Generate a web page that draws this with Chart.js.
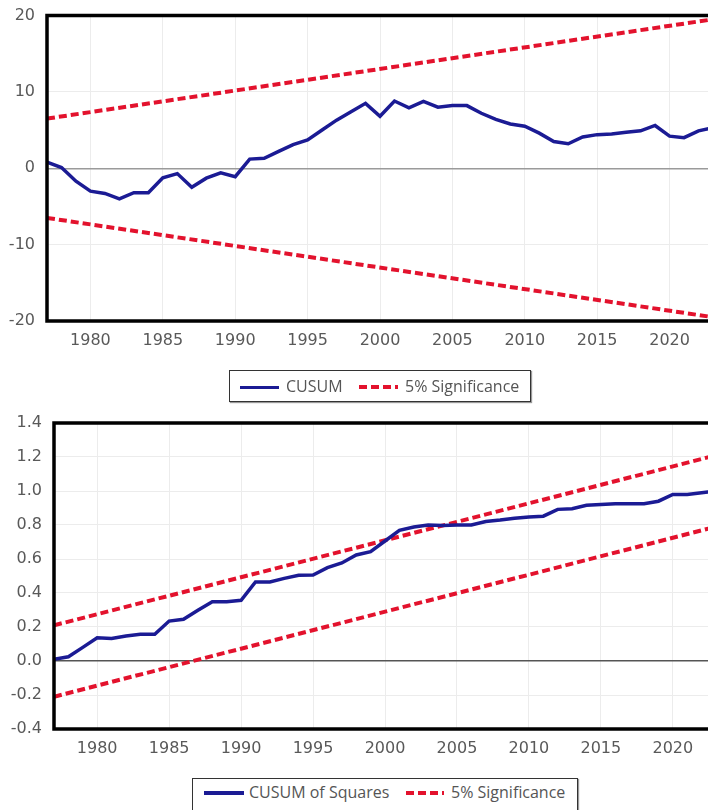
<!DOCTYPE html>
<html>
<head>
<meta charset="utf-8">
<title>CUSUM and CUSUM of Squares</title>
<script src="https://cdn.jsdelivr.net/npm/chart.js@4.4.1/dist/chart.umd.min.js"></script>
<style>
    body { margin: 0; width: 708px; height: 810px; overflow: hidden; background: #fff; position: relative; font-family: 'Open Sans', sans-serif; }
    .box { position: absolute; left: 0; width: 760px; }
    .legend { position: absolute; border: 1px solid #333; box-shadow: 1px 1px 1px #999; background: #fff; box-sizing: border-box; }
    .legend span { position: absolute; }
    .legend .txt { top: 0; font-size: 16px; color: #555; white-space: nowrap; }
    .solid { height: 3.5px; background: #1b1b94; }
    .dash { height: 4px; background: repeating-linear-gradient(90deg, #e3122d 0 8px, transparent 8px 12px); }
</style>
</head>
<body>
<div class="box" style="top:0;height:361px"><canvas id="cusumChart"></canvas></div>
<div class="box" style="top:400px;height:369px"><canvas id="cusumSqChart"></canvas></div>

<div class="legend" style="left:229px;top:370px;width:302px;height:32px">
    <span class="solid" style="left:10px;top:14.5px;width:39px"></span>
    <span class="txt" style="left:56px;line-height:30px">CUSUM</span>
    <span class="dash" style="left:129px;top:14px;width:39px"></span>
    <span class="txt" style="left:175px;line-height:30px">5% Significance</span>
</div>
<div class="legend" style="left:192px;top:778px;width:386px;height:34px">
    <span class="solid" style="left:11px;top:12px;width:40px"></span>
    <span class="txt" style="left:56px;line-height:27px">CUSUM of Squares</span>
    <span class="dash" style="left:213px;top:12px;width:38px"></span>
    <span class="txt" style="left:258px;line-height:27px">5% Significance</span>
</div>

<script>
// years on the x axis
const years = [1977, 1978, 1979, 1980, 1981, 1982, 1983, 1984, 1985, 1986,
    1987, 1988, 1989, 1990, 1991, 1992, 1993, 1994, 1995, 1996,
    1997, 1998, 1999, 2000, 2001, 2002, 2003, 2004, 2005, 2006,
    2007, 2008, 2009, 2010, 2011, 2012, 2013, 2014, 2015, 2016,
    2017, 2018, 2019, 2020, 2021, 2022, 2023];

const cusum = [0.8, 0.1, -1.7, -3.0, -3.3, -4.0, -3.2, -3.2, -1.25, -0.7,
    -2.5, -1.3, -0.6, -1.1, 1.2, 1.3, 2.2, 3.1, 3.7, 5.0,
    6.3, 7.4, 8.5, 6.8, 8.8, 7.9, 8.75, 8.0, 8.2, 8.2,
    7.2, 6.4, 5.8, 5.5, 4.6, 3.5, 3.2, 4.1, 4.4, 4.5,
    4.7, 4.9, 5.6, 4.2, 4.0, 4.9, 5.3];

const cusumSq = [0.01, 0.025, 0.08, 0.137, 0.133, 0.147, 0.157, 0.157, 0.235, 0.245,
    0.298, 0.349, 0.349, 0.357, 0.465, 0.465, 0.486, 0.504, 0.506, 0.549,
    0.577, 0.624, 0.643, 0.706, 0.769, 0.788, 0.80, 0.797, 0.80, 0.80,
    0.82, 0.829, 0.84, 0.847, 0.852, 0.892, 0.896, 0.916, 0.92, 0.925,
    0.925, 0.925, 0.94, 0.98, 0.98, 0.99, 1.0];

// 5% significance bands are straight lines, given by their end points
const bandYears = [1977, 2023];
const cusumUpper = [6.5, 19.5];
const cusumLower = [-6.5, -19.5];
const sqUpper = [0.21, 1.21];
const sqLower = [-0.21, 0.79];

const xTicks = [1980, 1985, 1990, 1995, 2000, 2005, 2010, 2015, 2020];
const cusumTicks = [-20, -10, 0, 10, 20];
const sqTicks = [-0.4, -0.2, 0, 0.2, 0.4, 0.6, 0.8, 1.0, 1.2, 1.4];

const blue = '#1b1b94';
const red = '#e3122d';
const tickFont = { family: "'DejaVu Sans', Verdana, sans-serif", size: 16 };

function points(xs, ys) {
    return xs.map((x, i) => ({ x: x, y: ys[i] }));
}

const framePlugin = {
    id: 'frame',
    afterDraw(chart) {
        const a = chart.chartArea;
        const c = chart.ctx;
        c.save();
        c.strokeStyle = '#000';
        c.lineWidth = 3.5;
        c.strokeRect(a.left, a.top, a.right - a.left, a.bottom - a.top);
        c.restore();
    }
};

function bandSet(ys) {
    return {
        label: '5% Significance',
        data: points(bandYears, ys),
        borderColor: red,
        borderWidth: 4,
        borderDash: [8, 4],
        pointRadius: 0
    };
}

function makeChart(id, mainLabel, mainData, upper, lower, yCfg) {
    return new Chart(document.getElementById(id), {
        type: 'line',
        data: {
            datasets: [
                {
                    label: mainLabel,
                    data: points(years, mainData),
                    borderColor: blue,
                    borderWidth: 3.5,
                    pointRadius: 0,
                    tension: 0
                },
                bandSet(upper),
                bandSet(lower)
            ]
        },
        options: {
            responsive: true,
            maintainAspectRatio: false,
            animation: false,
            layout: { padding: yCfg.padding },
            plugins: { legend: { display: false }, tooltip: { enabled: false } },
            scales: {
                x: {
                    type: 'linear',
                    min: 1977,
                    max: 2023,
                    afterBuildTicks: s => { s.ticks = xTicks.map(v => ({ value: v })); },
                    afterFit: s => { s.height = 40; s.paddingLeft = 0; s.paddingRight = 0; },
                    ticks: { font: tickFont, color: '#595959', padding: 10, callback: v => String(v) },
                    grid: { color: '#ececec', drawTicks: false },
                    border: { display: false }
                },
                y: {
                    min: yCfg.min,
                    max: yCfg.max,
                    afterBuildTicks: s => { s.ticks = yCfg.ticks.map(v => ({ value: v })); },
                    afterFit: s => { s.width = yCfg.width; s.paddingTop = 0; s.paddingBottom = 0; },
                    ticks: { font: tickFont, color: '#595959', padding: 12, callback: yCfg.fmt },
                    grid: {
                        drawTicks: false,
                        color: ctx => (ctx.tick && ctx.tick.value === 0) ? yCfg.zeroColor : '#ececec',
                        lineWidth: ctx => (ctx.tick && ctx.tick.value === 0) ? 1.5 : 1
                    },
                    border: { display: false }
                }
            }
        },
        plugins: [framePlugin]
    });
}

makeChart('cusumChart', 'CUSUM', cusum, cusumUpper, cusumLower, {
    min: -20, max: 20, ticks: cusumTicks, width: 47,
    padding: { top: 15.5, right: 47, bottom: 0, left: 0 },
    zeroColor: '#9a9a9a',
    fmt: v => String(v)
});

makeChart('cusumSqChart', 'CUSUM of Squares', cusumSq, sqUpper, sqLower, {
    min: -0.4, max: 1.4, ticks: sqTicks, width: 54,
    padding: { top: 23, right: 44, bottom: 0, left: 0 },
    zeroColor: '#555',
    fmt: v => v.toFixed(1)
});
</script>
</body>
</html>
